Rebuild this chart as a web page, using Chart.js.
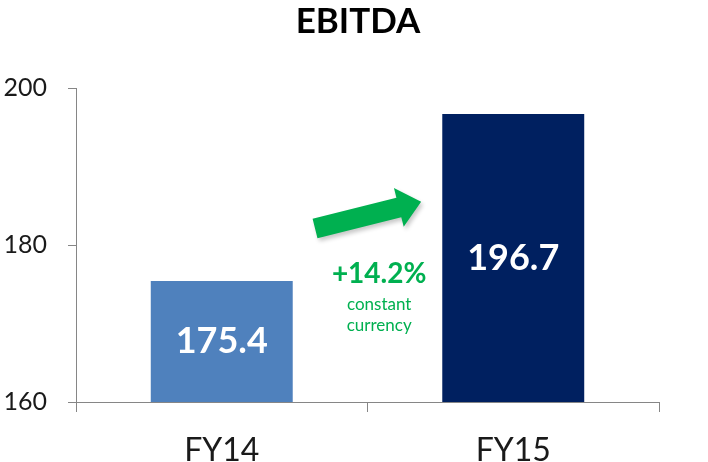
<!DOCTYPE html>
<html>
<head>
<meta charset="utf-8">
<script src="https://cdn.jsdelivr.net/npm/chart.js@4"></script>
<style>
html,body{margin:0;padding:0;background:#fff;}
#wrap{width:708px;height:462px;}
</style>
</head>
<body>
<div id="wrap"><canvas id="c" width="708" height="462"></canvas></div>
<script>
const categories = ["FY14", "FY15"];
const ebitda = [175.4, 196.7];
const barColors = ["#4F81BD", "#002060"];
const yTicks = [160, 180, 200];
const chartTitle = "EBITDA";
const growthLabel = "+14.2%";
const growthNote = ["constant", "currency"];

const FONT = "Lato, 'Open Sans', sans-serif";

const overlay = {
  id: "overlay",
  afterDatasetsDraw(chart) {
    const ctx = chart.ctx;
    const meta = chart.getDatasetMeta(0);
    const xs = chart.scales.x, ys = chart.scales.y;
    ctx.save();
    // title
    ctx.fillStyle = "#000000";
    ctx.font = "bold 35px " + FONT;
    ctx.textAlign = "center";
    ctx.textBaseline = "alphabetic";
    ctx.fillText(chartTitle, chart.width / 2 + 4, 33);
    // value labels inside bars
    ctx.fillStyle = "#ffffff";
    ctx.font = "bold 36px " + FONT;
    ctx.textBaseline = "middle";
    const basePx = ys.getPixelForValue(ys.min);
    meta.data.forEach((bar, i) => {
      const p = bar.getProps(["x", "y"], true);
      const cy = (p.y + basePx) / 2;
      ctx.fillText(ebitda[i].toFixed(1), p.x, cy);
    });
    // arrow
    const tx = xs.getPixelForValue(0.32), ty = ys.getPixelForValue(182.1);
    const hx = xs.getPixelForValue(0.684), hy = ys.getPixelForValue(185.5);
    const dx = hx - tx, dy = hy - ty, L = Math.hypot(dx, dy);
    const ux = dx / L, uy = dy / L, nx = -uy, ny = ux;
    const sw = 10, hw = 20, hl = 23;
    const bx = hx - ux * hl, by = hy - uy * hl;
    ctx.fillStyle = "#00B050";
    ctx.shadowColor = "rgba(0,0,0,0.22)";
    ctx.shadowBlur = 4; ctx.shadowOffsetX = 2; ctx.shadowOffsetY = 3;
    ctx.beginPath();
    ctx.moveTo(tx + nx * sw, ty + ny * sw);
    ctx.lineTo(bx + nx * sw, by + ny * sw);
    ctx.lineTo(bx + nx * hw, by + ny * hw);
    ctx.lineTo(hx, hy);
    ctx.lineTo(bx - nx * hw, by - ny * hw);
    ctx.lineTo(bx - nx * sw, by - ny * sw);
    ctx.lineTo(tx - nx * sw, ty - ny * sw);
    ctx.closePath();
    ctx.fill();
    ctx.shadowColor = "transparent";
    ctx.shadowBlur = 0; ctx.shadowOffsetX = 0; ctx.shadowOffsetY = 0;
    // growth text
    const gx = xs.getPixelForValue(0.54);
    ctx.fillStyle = "#00B050";
    ctx.font = "bold 28px " + FONT;
    ctx.fillText(growthLabel, gx, ys.getPixelForValue(176.3));
    ctx.font = "17px " + FONT;
    ctx.fillText(growthNote[0], gx, ys.getPixelForValue(172.4));
    ctx.fillText(growthNote[1], gx, ys.getPixelForValue(169.7));
    ctx.restore();
  }
};

new Chart(document.getElementById("c"), {
  type: "bar",
  data: {
    labels: categories,
    datasets: [{
      data: ebitda,
      backgroundColor: barColors,
      borderWidth: 0,
      categoryPercentage: 1.0,
      barPercentage: 0.487
    }]
  },
  options: {
    responsive: false,
    animation: false,
    events: [],
    layout: { padding: { top: 88, right: 49, bottom: 0, left: 3 } },
    plugins: {
      legend: { display: false },
      tooltip: { enabled: false },
      title: { display: false }
    },
    scales: {
      x: {
        afterFit(axis) { axis.height = 60; },
        grid: { display: true, drawOnChartArea: false, drawTicks: true, tickLength: 10, color: "#868686", offset: true },
        border: { display: true, color: "#868686", width: 1 },
        ticks: { color: "#1a1a1a", font: { family: FONT, size: 32 }, padding: 19 }
      },
      y: {
        min: 160, max: 200,
        afterBuildTicks(axis) { axis.ticks = yTicks.map(v => ({ value: v })); },
        afterFit(axis) { axis.width = 73; },
        grid: { display: true, drawOnChartArea: false, drawTicks: true, tickLength: 8, color: "#868686" },
        border: { display: true, color: "#868686", width: 1 },
        ticks: { color: "#1a1a1a", font: { family: FONT, size: 25 }, padding: 21 }
      }
    }
  },
  plugins: [overlay]
});
</script>
</body>
</html>
